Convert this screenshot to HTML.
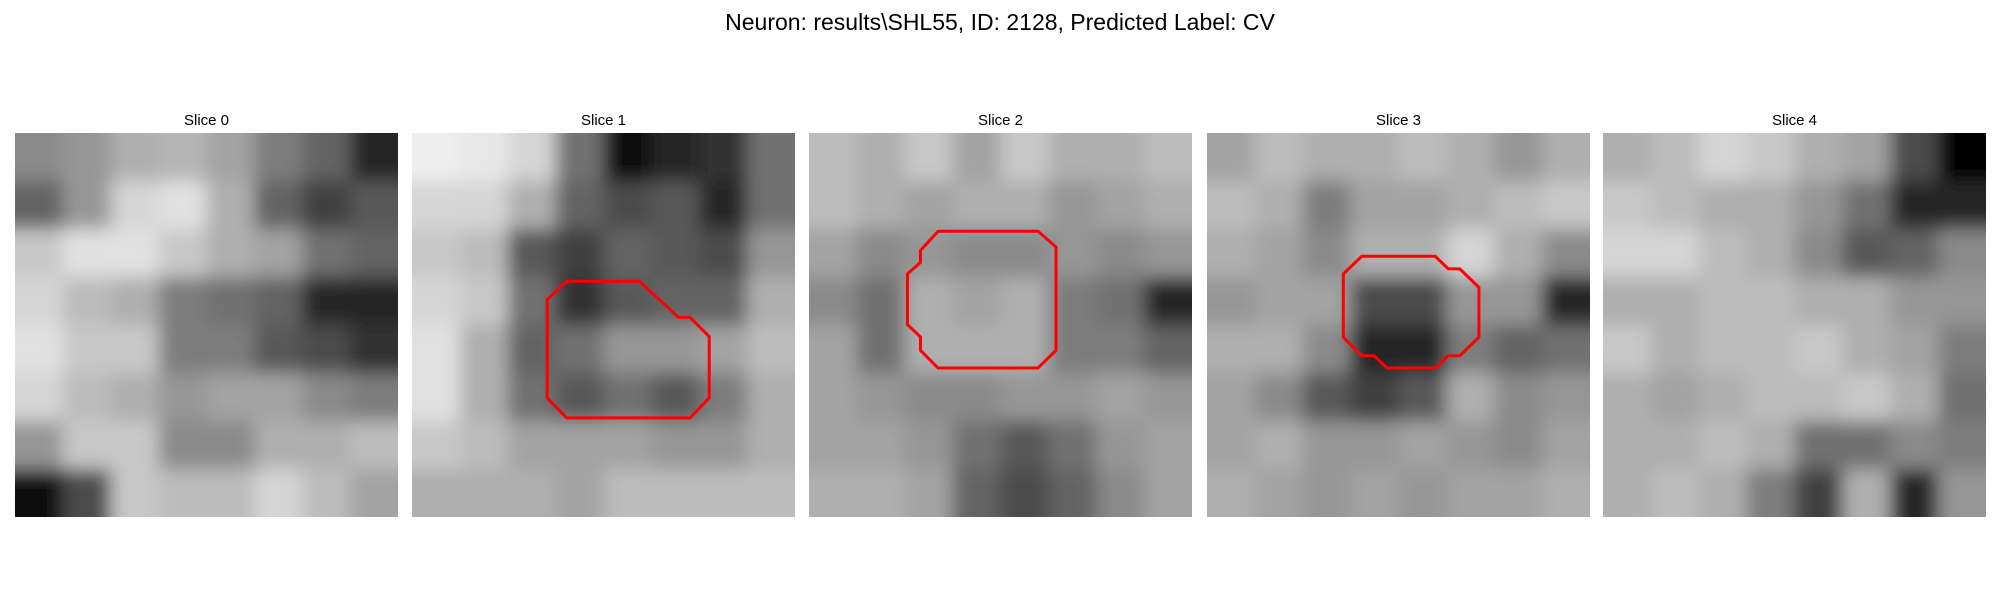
<!DOCTYPE html>
<html><head><meta charset="utf-8">
<style>
html,body{margin:0;padding:0;background:#fff;}
body{width:2000px;height:600px;overflow:hidden;font-family:"Liberation Sans","DejaVu Sans",sans-serif;}
</style></head>
<body>
<svg id="fig" width="2000" height="600" viewBox="0 0 2000 600" xmlns="http://www.w3.org/2000/svg">
<defs>
<filter id="soft" filterUnits="userSpaceOnUse" x="-100" y="-100" width="2200" height="800"><feGaussianBlur stdDeviation="9"/></filter>
</defs>
<text x="1000" y="30" text-anchor="middle" font-size="23" fill="#000">Neuron: results\SHL55, ID: 2128, Predicted Label: CV</text>
<g id="panels"></g>
</svg>
<script>
const sliceTitles = ["Slice 0","Slice 1","Slice 2","Slice 3","Slice 4"];
const slice0 = [[140,150,170,175,160,130,110,60],[110,150,200,210,170,110,80,100],[190,210,210,190,170,160,120,110],[200,180,170,130,120,110,60,60],[210,190,190,130,130,100,90,70],[200,180,170,150,160,160,140,130],[150,190,190,140,140,170,170,180],[40,90,190,180,180,200,180,160]];
const slice1 = [[220,215,200,120,40,60,70,120],[200,200,170,110,90,100,60,120],[190,180,100,80,110,100,90,150],[200,190,120,70,100,110,110,170],[210,170,110,120,150,150,160,180],[210,170,120,100,120,100,130,170],[190,180,160,160,160,150,150,170],[170,170,170,160,180,180,180,180]];
const slice2 = [[180,170,190,160,190,170,170,180],[180,170,160,170,170,150,160,170],[160,140,150,140,140,150,140,150],[140,120,170,160,170,130,120,60],[160,120,170,170,170,130,130,110],[160,150,140,140,150,150,160,150],[160,160,150,120,100,120,150,160],[170,170,160,110,90,110,140,160]];
const slice3 = [[160,180,170,170,180,170,150,170],[180,170,130,160,160,170,180,190],[170,160,140,170,170,200,170,140],[150,160,160,90,90,150,150,60],[170,170,140,60,60,130,110,120],[160,140,100,80,100,170,140,150],[160,170,150,150,160,150,140,160],[170,160,150,160,150,160,160,170]];
const slice4 = [[170,180,200,190,170,160,90,30],[190,180,170,170,150,120,60,60],[200,200,180,170,140,100,110,140],[170,170,180,180,170,170,150,150],[190,170,180,180,190,170,160,130],[170,160,170,180,180,190,170,120],[170,170,180,170,120,120,140,130],[170,180,170,130,80,170,60,150]];
const slices = [slice0,slice1,slice2,slice3,slice4];
const contour1 = [[0.404,0.386],[0.594,0.386],[0.696,0.480],[0.726,0.480],[0.776,0.530],[0.776,0.690],[0.726,0.742],[0.404,0.742],[0.353,0.690],[0.353,0.434]];
const contour2 = [[0.337,0.256],[0.598,0.256],[0.645,0.297],[0.645,0.566],[0.598,0.612],[0.337,0.612],[0.291,0.566],[0.291,0.531],[0.257,0.499],[0.257,0.367],[0.291,0.337],[0.291,0.306]];
const contour3 = [[0.404,0.321],[0.596,0.321],[0.63,0.354],[0.66,0.354],[0.71,0.402],[0.71,0.532],[0.66,0.580],[0.63,0.580],[0.596,0.612],[0.47,0.612],[0.436,0.580],[0.404,0.580],[0.356,0.532],[0.356,0.367]];
const contours = [null,contour1,contour2,contour3,null];

const NS="http://www.w3.org/2000/svg";
const panelLefts=[15,412,809,1207,1603], panelTop=133, panelW=383, panelH=384;
const g=document.getElementById('panels');
const clamp=(v,a,b)=>Math.max(a,Math.min(b,v));
const stretch=v=>clamp(Math.round((v-150)*1.25+150),0,255);
slices.forEach((grid,si)=>{
  const x0=panelLefts[si];
  const n=grid.length, m=grid[0].length;
  const xs=c=>x0+c*panelW/m, ys=r=>panelTop+r*panelH/n;
  const t=document.createElementNS(NS,'text');
  
  
  t.setAttribute('x',x0+panelW/2);t.setAttribute('y',125);
  t.setAttribute('text-anchor','middle');t.setAttribute('font-size','15');
  t.textContent=sliceTitles[si];g.appendChild(t);
  const cp=document.createElementNS(NS,'clipPath');cp.setAttribute('id','cp'+si);
  const cr=document.createElementNS(NS,'rect');cr.setAttribute('x',x0);cr.setAttribute('y',panelTop);cr.setAttribute('width',panelW);cr.setAttribute('height',panelH);
  cp.appendChild(cr);g.appendChild(cp);
  const outer=document.createElementNS(NS,'g');outer.setAttribute('clip-path','url(#cp'+si+')');
  const img=document.createElementNS(NS,'g');
  
  
  img.setAttribute('filter','url(#soft)');
  for(let r=-1;r<=n;r++){for(let c=-1;c<=m;c++){
    const v=stretch(grid[clamp(r,0,n-1)][clamp(c,0,m-1)]);
    const rc=document.createElementNS(NS,'rect');
    
    
    rc.setAttribute('x',xs(c));rc.setAttribute('y',ys(r));
    rc.setAttribute('width',panelW/m+0.5);rc.setAttribute('height',panelH/n+0.5);
    rc.setAttribute('fill',`rgb(${v},${v},${v})`);img.appendChild(rc);
  }}
  outer.appendChild(img);g.appendChild(outer);
  const ct=contours[si];
  if(ct){
    const p=document.createElementNS(NS,'polygon');
    
    
    p.setAttribute('points',ct.map(([fx,fy])=>(x0+fx*panelW)+','+(panelTop+fy*panelH)).join(' '));
    p.setAttribute('fill','none');p.setAttribute('stroke','#f00');p.setAttribute('stroke-width','3');
    g.appendChild(p);
  }
});
</script>
</body></html>
